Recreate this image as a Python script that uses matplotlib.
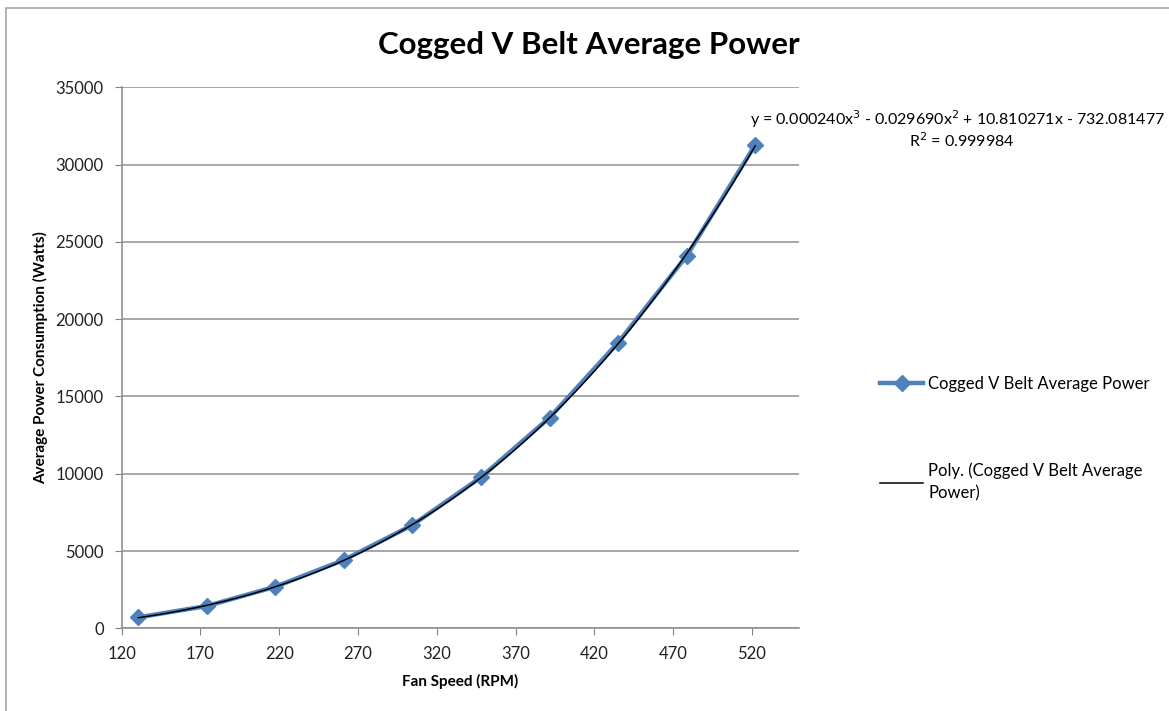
import matplotlib
matplotlib.use('Agg')
import matplotlib.pyplot as plt
import numpy as np
from matplotlib.patches import Rectangle

plt.rcParams['font.family'] = ['Lato', 'DejaVu Sans']

# data
fan_speed = [130.5, 174, 217.5, 261, 304.5, 348, 391.5, 435, 478.5, 522]
avg_power = [710, 1440, 2690, 4420, 6680, 9770, 13630, 18480, 24090, 31270]
trend_coef = [0.000240, -0.029690, 10.810271, -732.081477]
r_squared = 0.999984

x_ticks = list(range(120, 521, 50))
y_ticks = list(range(0, 35001, 5000))

W, H = 1169, 711
fig = plt.figure(figsize=(W / 100, H / 100), dpi=100)
ax = fig.add_axes([121.7 / W, 1 - 628.3 / H, (799.3 - 121.7) / W, (628.3 - 87.3) / H])

# outer chart border
fig.add_artist(Rectangle((6 / W, -0.1), 1.2, 1 - 8 / H + 0.1, transform=fig.transFigure,
                         fill=False, edgecolor='#a6a6a6', linewidth=1.2))

# cubic trendline fitted to the series
fit = np.polyfit(fan_speed, avg_power, 3)
xs = np.linspace(fan_speed[0], fan_speed[-1], 200)

ax.plot(fan_speed, avg_power, color='#4F81BD', linewidth=3.2, marker='D', markersize=8.5,
        markeredgecolor='#4F81BD', label='Cogged V Belt Average Power', zorder=3)
ax.plot(xs, np.polyval(fit, xs), color='black', linewidth=1.1,
        label='Poly. (Cogged V Belt Average\nPower)', zorder=4)

ax.set_xlim(120, 550)
ax.set_ylim(0, 35000)
ax.set_xticks(x_ticks)
ax.set_yticks(y_ticks)
ax.tick_params(axis='both', colors='#808080', labelcolor='#222222', labelsize=12,
               length=5, direction='out')
ax.tick_params(axis='x', pad=8)
ax.tick_params(axis='y', pad=8)
for s in ['top', 'right']:
    ax.spines[s].set_visible(False)
for s in ['left', 'bottom']:
    ax.spines[s].set_color('#909090')
    ax.spines[s].set_linewidth(1.2)
ax.yaxis.grid(True, color='#909090', linewidth=1.1)
ax.set_axisbelow(True)

ax.set_xlabel('Fan Speed (RPM)', fontsize=11, fontweight='bold', labelpad=8)
ax.set_ylabel('Average Power Consumption (Watts)', fontsize=11, fontweight='bold', labelpad=5)
fig.text(589 / W, 1 - 45 / H, 'Cogged V Belt Average Power', fontsize=22.5, fontweight='bold',
         ha='center', va='center')

fig.text(750 / W, 1 - 119 / H,
         'y = %.6fx$^3$ - %.6fx$^2$ + %.6fx - %.6f' % (trend_coef[0], -trend_coef[1], trend_coef[2], -trend_coef[3]),
         fontsize=11.5, ha='left', va='center')
fig.text(962 / W, 1 - 141 / H, 'R$^2$ = %.6f' % r_squared, fontsize=11.5, ha='center', va='center')

leg = ax.legend(loc='upper left', bbox_to_anchor=(880 / W, 1 - 376 / H),
                bbox_transform=fig.transFigure, frameon=False, fontsize=12,
                handlelength=2.6, handletextpad=0.3, labelspacing=4.2, borderaxespad=0,
                borderpad=0)
for t in leg.get_texts():
    t.set_linespacing(1.55)

fig.savefig('out.png', dpi=100)
